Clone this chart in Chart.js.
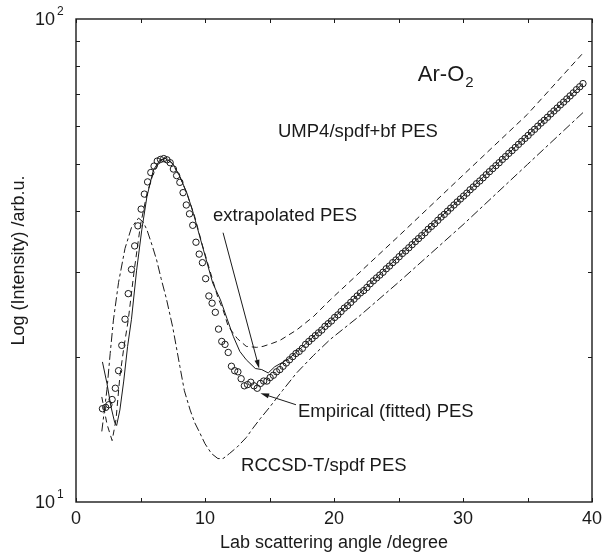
<!DOCTYPE html>
<html>
<head>
<meta charset="utf-8">
<script src="https://cdn.jsdelivr.net/npm/chart.js@4.4.1/dist/chart.umd.min.js"></script>
<style>
  body { margin: 0; background: #fff; }
  canvas { display: block; }
</style>
</head>
<body>
<canvas id="chart" width="602" height="554"></canvas>
<script>
const empAngle = [
  2.05, 2.30, 2.55, 2.80, 3.05, 3.30, 3.55, 3.80, 4.05, 4.30, 4.55, 4.80, 5.05, 5.30, 5.55,
  5.80, 6.05, 6.30, 6.55, 6.80, 7.05, 7.30, 7.55, 7.80, 8.05, 8.30, 8.55, 8.80, 9.05, 9.30,
  9.55, 9.80, 10.05, 10.30, 10.55, 10.80, 11.05, 11.30, 11.55, 11.80, 12.05, 12.30, 12.55, 12.80, 13.05,
  13.30, 13.55, 13.80, 14.05, 14.30, 14.55, 14.80, 15.05, 15.30, 15.55, 15.80, 16.05, 16.30, 16.55, 16.80,
  17.05, 17.30, 17.55, 17.80, 18.05, 18.30, 18.55, 18.80, 19.05, 19.30, 19.55, 19.80, 20.05, 20.30, 20.55,
  20.80, 21.05, 21.30, 21.55, 21.80, 22.05, 22.30, 22.55, 22.80, 23.05, 23.30, 23.55, 23.80, 24.05, 24.30,
  24.55, 24.80, 25.05, 25.30, 25.55, 25.80, 26.05, 26.30, 26.55, 26.80, 27.05, 27.30, 27.55, 27.80, 28.05,
  28.30, 28.55, 28.80, 29.05, 29.30, 29.55, 29.80, 30.05, 30.30, 30.55, 30.80, 31.05, 31.30, 31.55, 31.80,
  32.05, 32.30, 32.55, 32.80, 33.05, 33.30, 33.55, 33.80, 34.05, 34.30, 34.55, 34.80, 35.05, 35.30, 35.55,
  35.80, 36.05, 36.30, 36.55, 36.80, 37.05, 37.30, 37.55, 37.80, 38.05, 38.30, 38.55, 38.80, 39.05, 39.30
];
const empIntensity = [
  15.6, 15.7, 15.9, 16.3, 17.2, 18.7, 21.1, 23.9, 27.0, 30.3, 33.9, 37.3, 40.4, 43.4, 46.0,
  48.1, 49.6, 50.8, 51.2, 51.4, 51.1, 50.4, 48.9, 47.4, 45.9, 43.7, 41.2, 39.5, 37.4, 34.5,
  32.6, 31.3, 29.0, 26.7, 25.8, 24.7, 22.8, 21.5, 21.2, 20.4, 19.1, 18.7, 18.6, 18.0, 17.4,
  17.5, 17.7, 17.4, 17.2, 17.6, 17.8, 17.8, 18.1, 18.3, 18.6, 18.8, 19.1, 19.4, 19.7, 20.0,
  20.3, 20.5, 20.8, 21.2, 21.5, 21.8, 22.1, 22.4, 22.7, 23.1, 23.4, 23.7, 24.1, 24.4, 24.8,
  25.2, 25.5, 25.9, 26.3, 26.7, 27.1, 27.4, 27.8, 28.3, 28.7, 29.1, 29.5, 29.9, 30.4, 30.8,
  31.3, 31.7, 32.2, 32.7, 33.1, 33.6, 34.1, 34.6, 35.1, 35.6, 36.1, 36.7, 37.2, 37.7, 38.3,
  38.9, 39.4, 40.0, 40.6, 41.2, 41.8, 42.4, 43.0, 43.6, 44.3, 44.9, 45.6, 46.2, 46.9, 47.6,
  48.3, 49.0, 49.7, 50.4, 51.2, 51.9, 52.7, 53.4, 54.2, 55.0, 55.8, 56.6, 57.4, 58.3, 59.1,
  60.0, 60.9, 61.7, 62.6, 63.6, 64.5, 65.4, 66.4, 67.3, 68.3, 69.3, 70.3, 71.4, 72.4, 73.5
];

// extrapolated PES (solid)
const extrapAngle = [2.05, 2.4, 2.7, 3.0, 3.15, 3.4, 3.7, 4.0, 4.3, 4.7, 5.1, 5.5, 6.0, 6.5, 6.9, 7.5, 8.05, 8.6, 9.1,
  9.6, 10.1, 10.6, 11.2, 11.7, 12.2, 12.7, 13.2, 13.9, 14.4, 14.9, 15.4, 16.5, 17.5, 20, 25, 30, 35, 39.3];
const extrapIntensity = [19.5, 17.6, 15.8, 14.6, 14.4, 15.5, 17.8, 21.0, 23.9, 30.2, 36.6, 42.9, 48.7, 51.0, 51.5, 50.2, 47.2, 43.6, 39.6,
  35.4, 31.7, 28.4, 26.2, 24.0, 22.0, 20.5, 19.7, 18.9, 18.8, 18.5, 19.05, 19.8, 20.9, 24.1, 32.2, 43.0, 57.4, 73.5];

// UMP4/spdf+bf PES (dashed)
const umpAngle = [2.0, 2.4, 2.8, 3.1, 3.4, 3.7, 4.05, 4.5, 5.0, 5.5, 6.0, 6.5, 6.9, 7.4, 8.0, 8.6, 9.2, 9.8, 10.4,
  11.0, 11.4, 11.8, 12.5, 13.2, 14.0, 14.5, 15.2, 15.8, 17.1, 18.4, 19.7, 25, 30, 35, 39.3];
const umpIntensity = [16.5, 14.5, 13.4, 14.8, 18.2, 20.8, 23.8, 30, 37.5, 43.5, 48, 50.8, 51.5, 50.5, 47.5, 43.5, 39, 34, 30,
  26.5, 25, 23.1, 21.8, 21.0, 20.9, 21.0, 21.3, 21.6, 22.7, 24.2, 26.2, 35.5, 47.5, 63.5, 85];

// RCCSD-T/spdf PES (dash-dot)
const rccsdAngle = [2.0, 2.4, 2.65, 2.9, 3.3, 3.8, 4.3, 4.85, 5.2, 5.5, 5.9, 6.25, 6.6, 7.0, 7.5, 8.05, 8.4, 8.85, 9.2,
  9.6, 10.0, 10.5, 11.0, 11.4, 11.9, 12.5, 13.2, 13.7, 14.3, 15.0, 16.0, 17.1, 18.4, 19.7, 22, 25, 30, 35, 39.3];
const rccsdIntensity = [14.0, 17.1, 20.3, 23.8, 28.5, 33.5, 37.0, 38.7, 38.0, 36.6, 34.0, 31.7, 29.0, 26.4, 23.0, 19.1, 17.0, 15.5, 14.6,
  13.9, 13.2, 12.6, 12.3, 12.3, 12.6, 13.0, 13.6, 14.2, 14.9, 15.7, 17.0, 18.5, 20.1, 21.7, 24.3, 28.5, 37.5, 50.0, 64.0];

const xMajorTicks = [0, 10, 20, 30, 40];
const xMinorTicks = [5, 15, 25, 35];
const yMajorTicks = [10, 100];
const yMinorTicks = [20, 30, 40, 50, 60, 70, 80, 90];

const INK = "#1a1a1a";
const FONT = "'Liberation Sans', Arial, Helvetica, sans-serif";

function toPoints(xs, ys) {
  return xs.map((x, i) => ({ x: x, y: ys[i] }));
}

// frame, inward ticks, tick labels, axis titles and annotations
const figurePlugin = {
  id: "figure",
  afterDraw(chart) {
    const { ctx, chartArea: a, scales } = chart;
    const xs = scales.x;
    const ys = scales.y;
    ctx.save();
    ctx.strokeStyle = INK;
    ctx.fillStyle = INK;

    ctx.lineWidth = 1.4;
    ctx.strokeRect(a.left, a.top, a.right - a.left, a.bottom - a.top);

    ctx.lineWidth = 1;
    ctx.beginPath();
    [...xMajorTicks, ...xMinorTicks].forEach((v) => {
      const px = Math.round(xs.getPixelForValue(v)) + 0.5;
      ctx.moveTo(px, a.bottom);
      ctx.lineTo(px, a.bottom - 4);
      ctx.moveTo(px, a.top);
      ctx.lineTo(px, a.top + 4);
    });
    yMinorTicks.forEach((v) => {
      const py = Math.round(ys.getPixelForValue(v)) + 0.5;
      ctx.moveTo(a.left, py);
      ctx.lineTo(a.left + 4, py);
      ctx.moveTo(a.right, py);
      ctx.lineTo(a.right - 4, py);
    });
    ctx.stroke();

    // x tick labels
    ctx.font = "18px " + FONT;
    ctx.textAlign = "center";
    ctx.textBaseline = "middle";
    xMajorTicks.forEach((v) => {
      ctx.fillText(String(v), xs.getPixelForValue(v), a.bottom + 17);
    });

    // y tick labels 10^1, 10^2
    yMajorTicks.forEach((v) => {
      const py = ys.getPixelForValue(v);
      ctx.font = "18px " + FONT;
      ctx.textAlign = "right";
      ctx.textBaseline = "middle";
      ctx.fillText("10", 55, py + 1);
      ctx.font = "12px " + FONT;
      ctx.textAlign = "left";
      ctx.fillText(String(Math.round(Math.log10(v))), 57, py - 7);
    });

    // axis titles
    ctx.font = "18px " + FONT;
    ctx.textAlign = "center";
    ctx.textBaseline = "middle";
    ctx.fillText("Lab scattering angle /degree", (a.left + a.right) / 2, 543);
    ctx.save();
    ctx.translate(19, (a.top + a.bottom) / 2);
    ctx.rotate(-Math.PI / 2);
    ctx.fillText("Log (Intensity) /arb.u.", 0, 0);
    ctx.restore();

    // annotations
    const px = (v) => xs.getPixelForValue(v);
    const py = (v) => ys.getPixelForValue(v);
    ctx.textAlign = "left";
    ctx.font = "22px " + FONT;
    ctx.fillText("Ar-O", px(26.5), py(76.6));
    const w = ctx.measureText("Ar-O").width;
    ctx.font = "15px " + FONT;
    ctx.fillText("2", px(26.5) + w + 1, py(76.6) + 8);

    ctx.font = "18.5px " + FONT;
    ctx.fillText("UMP4/spdf+bf PES", px(15.66), py(58.3));
    ctx.fillText("extrapolated PES", px(10.62), py(39.1));
    ctx.fillText("Empirical (fitted) PES", px(17.2), py(15.35));
    ctx.fillText("RCCSD-T/spdf PES", px(12.8), py(11.87));

    // arrows
    drawArrow(ctx, px(11.4), py(36.1), px(14.2), py(18.9));
    drawArrow(ctx, px(17.05), py(15.9), px(14.3), py(16.8));
    ctx.restore();
  },
};

function drawArrow(ctx, x1, y1, x2, y2) {
  const ang = Math.atan2(y2 - y1, x2 - x1);
  const len = 9;
  const spread = 0.28;
  ctx.lineWidth = 1;
  ctx.beginPath();
  ctx.moveTo(x1, y1);
  ctx.lineTo(x2 - Math.cos(ang) * 4, y2 - Math.sin(ang) * 4);
  ctx.stroke();
  ctx.beginPath();
  ctx.moveTo(x2, y2);
  ctx.lineTo(x2 - len * Math.cos(ang - spread), y2 - len * Math.sin(ang - spread));
  ctx.lineTo(x2 - len * Math.cos(ang + spread), y2 - len * Math.sin(ang + spread));
  ctx.closePath();
  ctx.fill();
}

const lineStyle = {
  showLine: true,
  fill: false,
  borderColor: INK,
  borderWidth: 1,
  pointRadius: 0,
  tension: 0,
};

new Chart(document.getElementById("chart"), {
  type: "scatter",
  data: {
    datasets: [
      {
        label: "Empirical (fitted) PES",
        data: toPoints(empAngle, empIntensity),
        showLine: false,
        pointRadius: 3.2,
        pointBorderWidth: 1,
        pointBorderColor: INK,
        pointBackgroundColor: "rgba(255,255,255,0)",
      },
      { ...lineStyle, label: "extrapolated PES", data: toPoints(extrapAngle, extrapIntensity) },
      { ...lineStyle, label: "UMP4/spdf+bf PES", data: toPoints(umpAngle, umpIntensity), borderDash: [6, 4] },
      { ...lineStyle, label: "RCCSD-T/spdf PES", data: toPoints(rccsdAngle, rccsdIntensity), borderDash: [9, 3, 3, 3] },
    ],
  },
  options: {
    responsive: false,
    devicePixelRatio: 1,
    animation: false,
    layout: { padding: { top: 19, right: 10, left: 0, bottom: 0 } },
    plugins: { legend: { display: false }, tooltip: { enabled: false } },
    scales: {
      x: {
        type: "linear",
        min: 0,
        max: 40,
        grid: { display: false },
        border: { display: false },
        ticks: { display: false },
        afterFit: (scale) => { scale.height = 52; },
      },
      y: {
        type: "logarithmic",
        min: 10,
        max: 100,
        grid: { display: false },
        border: { display: false },
        ticks: { display: false },
        afterFit: (scale) => { scale.width = 76; },
      },
    },
  },
  plugins: [figurePlugin],
});
</script>
</body>
</html>
